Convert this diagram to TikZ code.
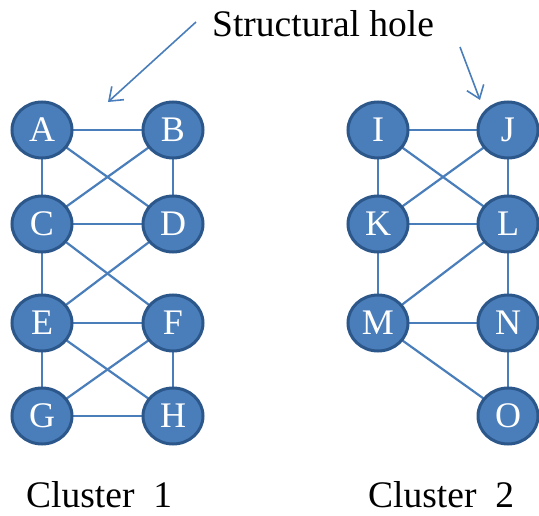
\documentclass[tikz,border=0pt]{standalone}
\usepackage{fontspec}
\setmainfont{Liberation Serif}
\usetikzlibrary{shapes.geometric,arrows.meta}
\definecolor{nodefill}{HTML}{4A7EBB}
\definecolor{nodeline}{HTML}{2C578A}
\definecolor{edgecol}{HTML}{4A7EBB}
\tikzset{
  vtx/.style={ellipse, minimum width=60pt, minimum height=56pt, inner sep=0pt,
    fill=nodefill, draw=nodeline, line width=3pt, text=white,
    font=\fontsize{36}{38}\selectfont},
  edge/.style={draw=edgecol, line width=2.2pt},
  pointer/.style={draw=edgecol, line width=1.6pt, -{Straight Barb[length=12pt,width=18pt,line width=1.6pt]}},
  label/.style={font=\fontsize{37.5}{40}\selectfont, text=black, inner sep=0pt}
}
\begin{document}
\begin{tikzpicture}[x=1pt,y=-1pt]
\useasboundingbox (0,0) rectangle (539,516);
% edges first, nodes drawn on top
\coordinate (A) at (42,130);
\coordinate (B) at (173,130);
\coordinate (C) at (42,224);
\coordinate (D) at (173,224);
\coordinate (E) at (42,323);
\coordinate (F) at (173,323);
\coordinate (G) at (42,416);
\coordinate (H) at (173,416);
\coordinate (I) at (378,130);
\coordinate (J) at (508,130);
\coordinate (K) at (378,224);
\coordinate (L) at (508,224);
\coordinate (M) at (378,323);
\coordinate (N) at (508,323);
\coordinate (O) at (508,416);
\foreach \u/\v in {A/B,A/C,A/D,B/C,B/D,C/D,C/E,C/F,D/E,E/F,E/G,E/H,F/G,F/H,G/H,
                   I/J,I/K,I/L,J/K,J/L,K/L,K/M,L/M,L/N,M/N,M/O,N/O}
  \draw[edge] (\u) -- (\v);
\foreach \n in {A,B,C,D,E,F,G,H,I,J,K,L,M,N,O}
  \node[vtx] (n\n) at (\n) {\n};
% texts
\node[label, anchor=base west] (t) at (212,37) {Structural hole};
\node[label, anchor=base west] (c1) at (26,507) {Cluster\ \ 1};
\node[label, anchor=base west] (c2) at (368,507) {Cluster\ \ 2};
% pointers
\coordinate (p1s) at (196,22);
\coordinate (p1e) at (108,102);
\coordinate (p2s) at (460,47);
\coordinate (p2e) at (480,100);
\draw[pointer] (p1s) -- (p1e);
\draw[pointer] (p2s) -- (p2e);
\end{tikzpicture}
\end{document}
